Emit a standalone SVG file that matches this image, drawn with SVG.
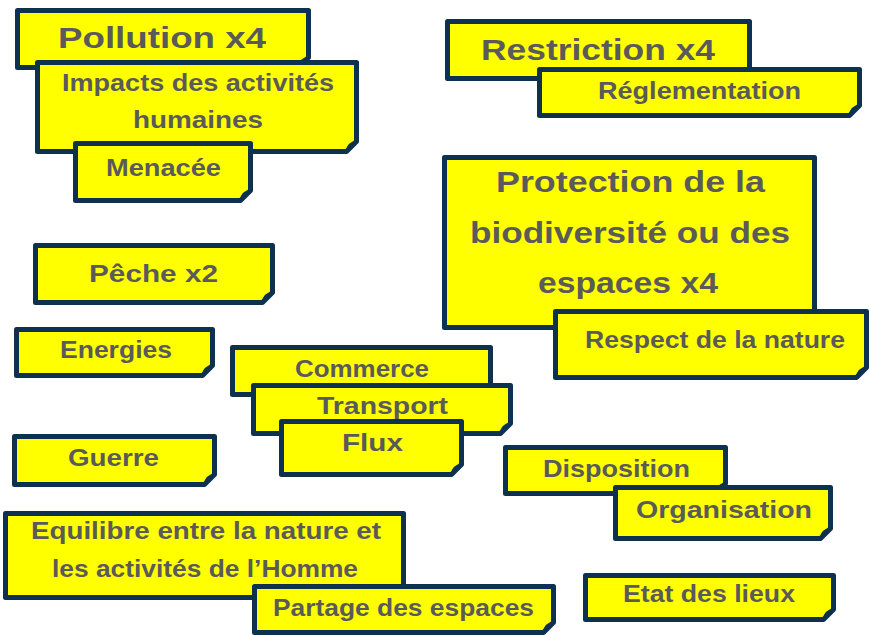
<svg xmlns="http://www.w3.org/2000/svg" width="869" height="635" viewBox="0 0 869 635">
<style>
.b{fill:#FFFF00;stroke:#0E3150;stroke-width:5;stroke-linejoin:round}
.c{fill:#0E3150;stroke:#0E3150;stroke-width:1.5;stroke-linejoin:round}
.t{font-family:"Liberation Sans","DejaVu Sans",sans-serif;font-weight:bold;fill:#5A5A5A}
.L{font-size:30px}
.M{font-size:24px}
</style>
<rect width="869" height="635" fill="#FFFFFF"/>
<g id="connectors"/>
<g id="pollution">
<path class="b" d="M17.5 10.5H308.5V57.5L298.5 67.5H17.5Z"/>
<path class="c" d="M308.5 57.5Q299.5 58.5 298.5 67.5Z"/>
<text class="t L" x="58" y="48" textLength="208" lengthAdjust="spacingAndGlyphs">Pollution x4</text>
</g>
<g id="impacts">
<path class="b" d="M37.5 62.5H356.5V141.5L346.5 151.5H37.5Z"/>
<path class="c" d="M356.5 141.5Q347.5 142.5 346.5 151.5Z"/>
<text class="t M" x="62" y="91" textLength="272" lengthAdjust="spacingAndGlyphs">Impacts des activités</text>
<text class="t M" x="133" y="128" textLength="130" lengthAdjust="spacingAndGlyphs">humaines</text>
</g>
<g id="menacee">
<path class="b" d="M75.5 143.5H250.5V190.5L240.5 200.5H75.5Z"/>
<path class="c" d="M250.5 190.5Q241.5 191.5 240.5 200.5Z"/>
<text class="t M" x="106" y="176" textLength="115" lengthAdjust="spacingAndGlyphs">Menacée</text>
</g>
<g id="restriction">
<path class="b" d="M447.5 21.5H749.5V68.5L739.5 78.5H447.5Z"/>
<path class="c" d="M749.5 68.5Q740.5 69.5 739.5 78.5Z"/>
<text class="t L" x="481" y="60" textLength="234" lengthAdjust="spacingAndGlyphs">Restriction x4</text>
</g>
<g id="reglementation">
<path class="b" d="M539.5 69.5H859.5V105.5L849.5 115.5H539.5Z"/>
<path class="c" d="M859.5 105.5Q850.5 106.5 849.5 115.5Z"/>
<text class="t M" x="598" y="99" textLength="203" lengthAdjust="spacingAndGlyphs">Réglementation</text>
</g>
<g id="protection">
<path class="b" d="M444.5 157.5H814.5V317.5L804.5 327.5H444.5Z"/>
<path class="c" d="M814.5 317.5Q805.5 318.5 804.5 327.5Z"/>
<text class="t L" x="496" y="192" textLength="269" lengthAdjust="spacingAndGlyphs">Protection de la</text>
<text class="t L" x="470" y="243" textLength="320" lengthAdjust="spacingAndGlyphs">biodiversité ou des</text>
<text class="t L" x="538" y="293" textLength="180" lengthAdjust="spacingAndGlyphs">espaces x4</text>
</g>
<g id="respect">
<path class="b" d="M555.5 311.5H866.5V367.5L856.5 377.5H555.5Z"/>
<path class="c" d="M866.5 367.5Q857.5 368.5 856.5 377.5Z"/>
<text class="t M" x="585" y="348" textLength="260" lengthAdjust="spacingAndGlyphs">Respect de la nature</text>
</g>
<g id="peche">
<path class="b" d="M35.5 245.5H272.5V292.5L262.5 302.5H35.5Z"/>
<path class="c" d="M272.5 292.5Q263.5 293.5 262.5 302.5Z"/>
<text class="t M" x="89" y="282" textLength="129" lengthAdjust="spacingAndGlyphs">Pêche x2</text>
</g>
<g id="energies">
<path class="b" d="M16.5 329.5H212.5V365.5L202.5 375.5H16.5Z"/>
<path class="c" d="M212.5 365.5Q203.5 366.5 202.5 375.5Z"/>
<text class="t M" x="60" y="358" textLength="112" lengthAdjust="spacingAndGlyphs">Energies</text>
</g>
<g id="commerce">
<path class="b" d="M232.5 347.5H490.5V384.5L480.5 394.5H232.5Z"/>
<path class="c" d="M490.5 384.5Q481.5 385.5 480.5 394.5Z"/>
<text class="t M" x="295" y="377" textLength="134" lengthAdjust="spacingAndGlyphs">Commerce</text>
</g>
<g id="transport">
<path class="b" d="M253.5 385.5H510.5V423.5L500.5 433.5H253.5Z"/>
<path class="c" d="M510.5 423.5Q501.5 424.5 500.5 433.5Z"/>
<text class="t M" x="317" y="414" textLength="131" lengthAdjust="spacingAndGlyphs">Transport</text>
</g>
<g id="flux">
<path class="b" d="M281.5 421.5H461.5V464.5L451.5 474.5H281.5Z"/>
<path class="c" d="M461.5 464.5Q452.5 465.5 451.5 474.5Z"/>
<text class="t M" x="342" y="451" textLength="61" lengthAdjust="spacingAndGlyphs">Flux</text>
</g>
<g id="guerre">
<path class="b" d="M14.5 436.5H214.5V474.5L204.5 484.5H14.5Z"/>
<path class="c" d="M214.5 474.5Q205.5 475.5 204.5 484.5Z"/>
<text class="t M" x="68" y="466" textLength="91" lengthAdjust="spacingAndGlyphs">Guerre</text>
</g>
<g id="disposition">
<path class="b" d="M505.5 447.5H725.5V483.5L715.5 493.5H505.5Z"/>
<path class="c" d="M725.5 483.5Q716.5 484.5 715.5 493.5Z"/>
<text class="t M" x="543" y="477" textLength="147" lengthAdjust="spacingAndGlyphs">Disposition</text>
</g>
<g id="organisation">
<path class="b" d="M615.5 487.5H830.5V528.5L820.5 538.5H615.5Z"/>
<path class="c" d="M830.5 528.5Q821.5 529.5 820.5 538.5Z"/>
<text class="t M" x="636" y="518" textLength="176" lengthAdjust="spacingAndGlyphs">Organisation</text>
</g>
<g id="equilibre">
<path class="b" d="M5.5 513.5H403.5V587.5L393.5 597.5H5.5Z"/>
<path class="c" d="M403.5 587.5Q394.5 588.5 393.5 597.5Z"/>
<text class="t M" x="31" y="539" textLength="350" lengthAdjust="spacingAndGlyphs">Equilibre entre la nature et</text>
<text class="t M" x="52" y="577" textLength="306" lengthAdjust="spacingAndGlyphs">les activités de l’Homme</text>
</g>
<g id="partage">
<path class="b" d="M254.5 586.5H553.5V622.5L543.5 632.5H254.5Z"/>
<path class="c" d="M553.5 622.5Q544.5 623.5 543.5 632.5Z"/>
<text class="t M" x="273" y="616" textLength="261" lengthAdjust="spacingAndGlyphs">Partage des espaces</text>
</g>
<g id="etat">
<path class="b" d="M585.5 575.5H833.5V609.5L823.5 619.5H585.5Z"/>
<path class="c" d="M833.5 609.5Q824.5 610.5 823.5 619.5Z"/>
<text class="t M" x="623" y="602" textLength="172" lengthAdjust="spacingAndGlyphs">Etat des lieux</text>
</g>
</svg>
